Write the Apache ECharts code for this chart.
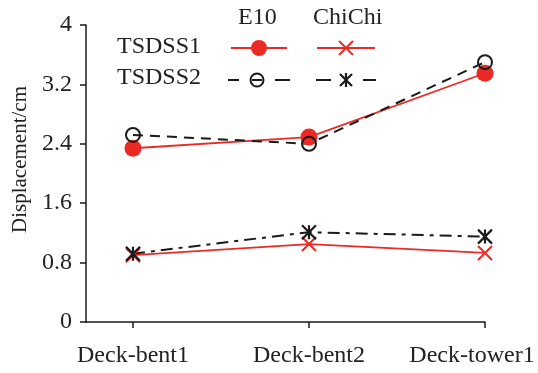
<!DOCTYPE html>
<html><head><meta charset="utf-8">
<script src="https://cdn.jsdelivr.net/npm/echarts@6/dist/echarts.min.js"></script>
<style>html,body{margin:0;padding:0;background:#fff}#c{width:538px;height:373px}</style>
</head><body><div id="c"></div>
<script>
var categories = ['Deck-bent1', 'Deck-bent2', 'Deck-tower1'];
var yTickLabels = ['0', '0.8', '1.6', '2.4', '3.2', '4'];
var tsdss1E10 = [2.34, 2.49, 3.35];
var tsdss2E10 = [2.52, 2.40, 3.50];
var tsdss1ChiChi = [0.90, 1.05, 0.93];
var tsdss2ChiChi = [0.92, 1.21, 1.15];

var RED = '#ec2a25';
var BLACK = '#1a1a1a';
var FONT = '"Liberation Serif", "Times New Roman", serif';
var xPathX = 'path://M0,0L10,10M10,0L0,10';
var xPathStar = 'path://M5,0L5,10M0,0L10,10M10,0L0,10';

function pts(arr) { return arr.map(function (v, i) { return [i, v]; }); }

var chart = echarts.init(document.getElementById('c'), null, { renderer: 'canvas' });
var txt = { fontFamily: FONT, fontSize: 24, fill: '#222' };
chart.setOption({
  animation: false,
  grid: { left: 86, right: 53, top: 25, bottom: 51, containLabel: false, outerBoundsMode: 'none' },
  xAxis: {
    type: 'value', min: -0.267, max: 2,
    splitLine: { show: false },
    axisLine: { onZero: false, lineStyle: { color: BLACK, width: 1.5 } },
    axisTick: { show: true, length: 6, inside: false, customValues: [0, 1, 2], lineStyle: { color: BLACK, width: 1.5 } },
    axisLabel: { customValues: [0, 1, 2],
      formatter: function (v) {
        var i = Math.round(v);
        var s = categories[i] || '';
        return i === categories.length - 1 ? '{last|' + s + '}' : s;
      },
      rich: { last: { fontFamily: FONT, fontSize: 24, color: '#222', padding: [0, 26, 0, 0] } },
      fontFamily: FONT, fontSize: 24, color: '#222', margin: 22, hideOverlap: false }
  },
  yAxis: {
    type: 'value', min: 0, max: 4, interval: 0.8,
    name: 'Displacement/cm', nameLocation: 'middle', nameGap: 54,
    nameTextStyle: { fontFamily: FONT, fontSize: 21, color: '#222', padding: [0, 0, 0, 28] },
    splitLine: { show: false },
    axisLine: { show: true, onZero: false, lineStyle: { color: BLACK, width: 1.5 } },
    axisTick: { show: true, length: 6, lineStyle: { color: BLACK, width: 1.5 } },
    axisLabel: { fontFamily: FONT, fontSize: 24, color: '#222', margin: 14,
      formatter: function (v) { return yTickLabels[Math.round(v / 0.8)]; } }
  },
  series: [
    { name: 'TSDSS1 ChiChi', type: 'line', data: pts(tsdss1ChiChi), symbol: xPathX, symbolSize: 14,
      lineStyle: { color: RED, width: 1.8 }, itemStyle: { color: 'rgba(0,0,0,0)', borderColor: RED, borderWidth: 2 } },
    { name: 'TSDSS2 ChiChi', type: 'line', data: pts(tsdss2ChiChi), symbol: xPathStar, symbolSize: 14,
      lineStyle: { color: BLACK, width: 2, type: [12, 6, 4, 6] }, itemStyle: { color: 'rgba(0,0,0,0)', borderColor: BLACK, borderWidth: 2.2 } },
    { name: 'TSDSS1 E10', type: 'line', data: pts(tsdss1E10), symbol: 'circle', symbolSize: 17,
      lineStyle: { color: RED, width: 1.8 }, itemStyle: { color: RED } },
    { name: 'TSDSS2 E10', type: 'line', data: pts(tsdss2E10), symbol: 'circle', symbolSize: 14,
      lineStyle: { color: BLACK, width: 2, type: [10, 7] }, itemStyle: { color: 'rgba(255,255,255,0)', borderColor: BLACK, borderWidth: 2 } }
  ],
  graphic: [
    { type: 'text', left: 238, top: 6, style: Object.assign({ text: 'E10' }, txt) },
    { type: 'text', left: 313, top: 6, style: Object.assign({ text: 'ChiChi' }, txt) },
    { type: 'text', left: 117, top: 35, style: Object.assign({ text: 'TSDSS1' }, txt) },
    { type: 'text', left: 117, top: 66, style: Object.assign({ text: 'TSDSS2' }, txt) },
    { type: 'line', shape: { x1: 231, y1: 48, x2: 287, y2: 48 }, style: { stroke: RED, lineWidth: 1.8 } },
    { type: 'circle', shape: { cx: 259, cy: 48, r: 8 }, style: { fill: RED } },
    { type: 'line', shape: { x1: 317, y1: 48, x2: 375, y2: 48 }, style: { stroke: RED, lineWidth: 1.8 } },
    { type: 'polyline', shape: { points: [[339, 41], [353, 55]] }, style: { stroke: RED, lineWidth: 2, fill: null } },
    { type: 'polyline', shape: { points: [[353, 41], [339, 55]] }, style: { stroke: RED, lineWidth: 2, fill: null } },
    { type: 'line', shape: { x1: 228, y1: 80, x2: 239, y2: 80 }, style: { stroke: BLACK, lineWidth: 2 } },
    { type: 'line', shape: { x1: 275, y1: 80, x2: 290, y2: 80 }, style: { stroke: BLACK, lineWidth: 2 } },
    { type: 'circle', shape: { cx: 257, cy: 80, r: 6.5 }, style: { fill: null, stroke: BLACK, lineWidth: 2 } },
    { type: 'line', shape: { x1: 252, y1: 80, x2: 262, y2: 80 }, style: { stroke: BLACK, lineWidth: 2 } },
    { type: 'line', shape: { x1: 316, y1: 80, x2: 331, y2: 80 }, style: { stroke: BLACK, lineWidth: 2 } },
    { type: 'line', shape: { x1: 363, y1: 80, x2: 376, y2: 80 }, style: { stroke: BLACK, lineWidth: 2 } },
    { type: 'line', shape: { x1: 346, y1: 73, x2: 346, y2: 87 }, style: { stroke: BLACK, lineWidth: 2.2 } },
    { type: 'line', shape: { x1: 340, y1: 74, x2: 352, y2: 86 }, style: { stroke: BLACK, lineWidth: 2.2 } },
    { type: 'line', shape: { x1: 352, y1: 74, x2: 340, y2: 86 }, style: { stroke: BLACK, lineWidth: 2.2 } }
  ]
});
</script></body></html>
